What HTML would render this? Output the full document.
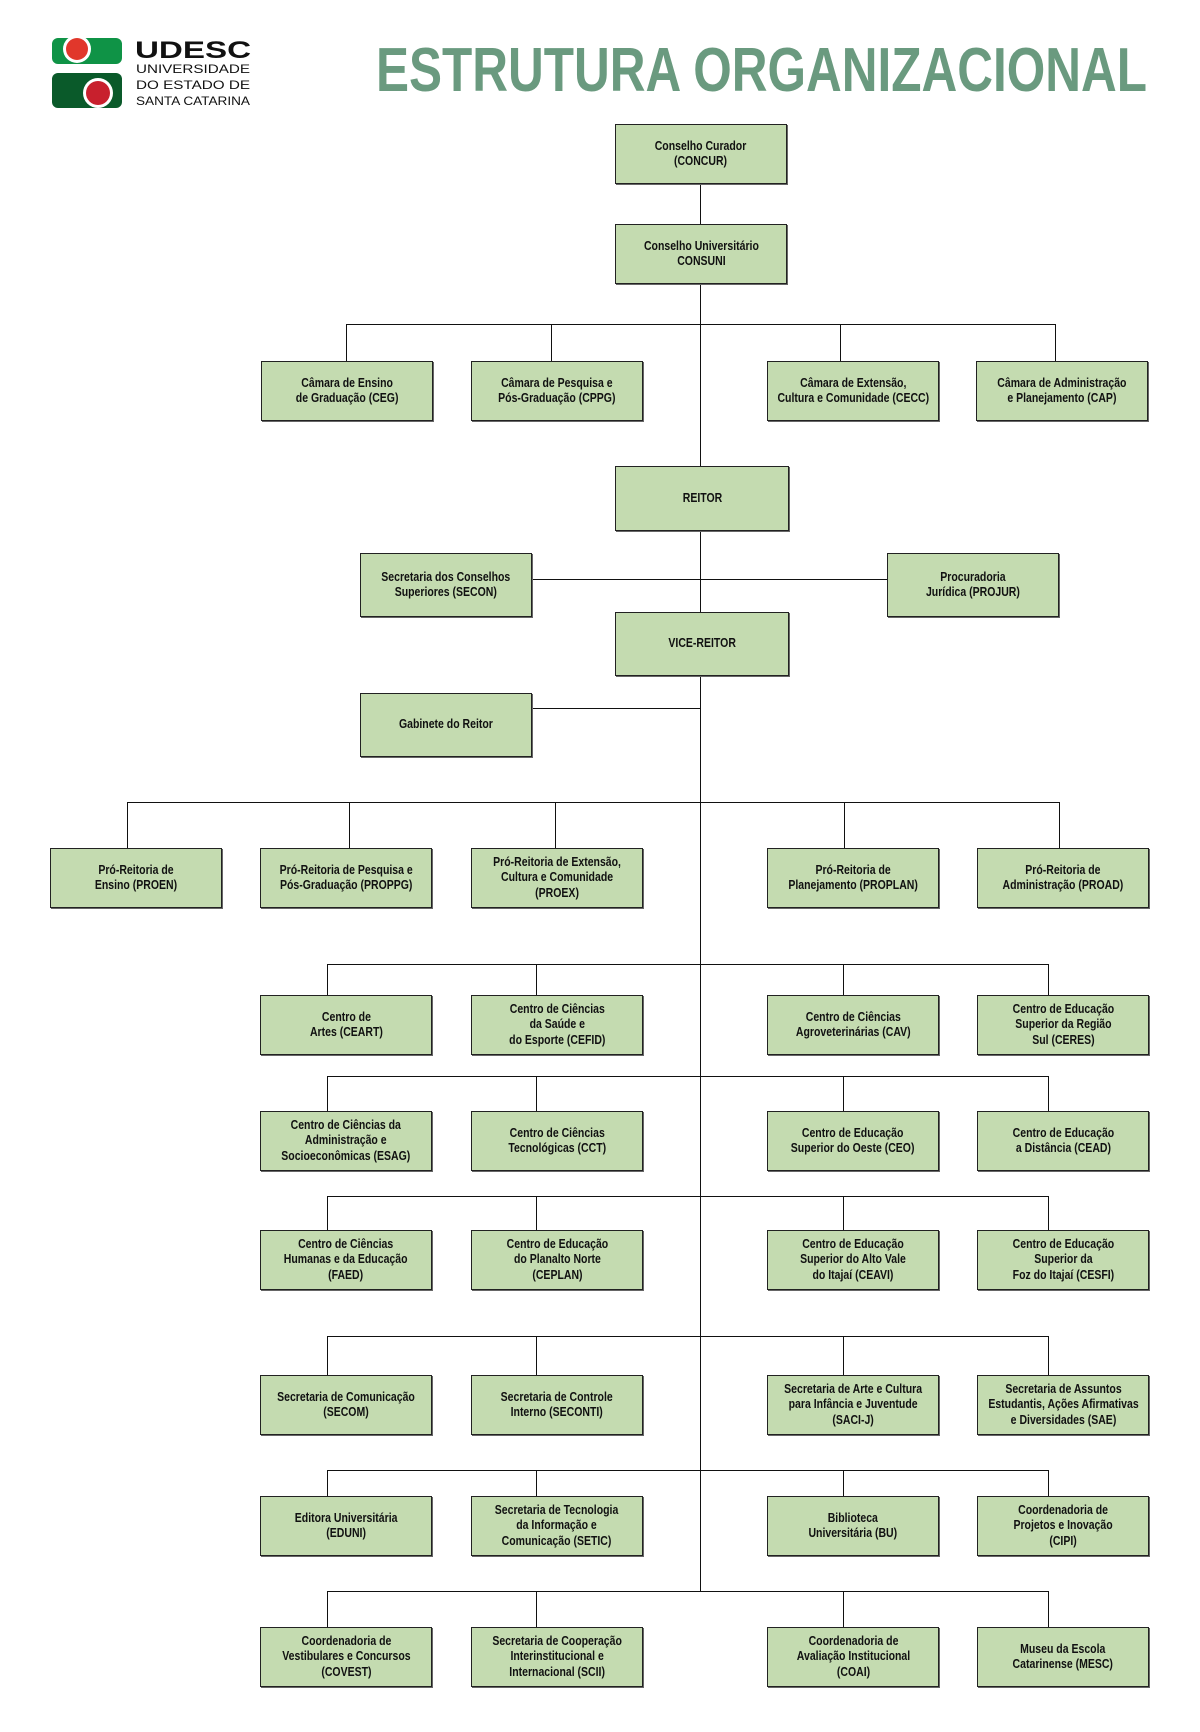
<!DOCTYPE html>
<html><head><meta charset="utf-8">
<style>
html,body{margin:0;padding:0;background:#fff;}
body{width:1200px;height:1732px;position:relative;overflow:hidden;font-family:"Liberation Sans",sans-serif;}
.b{position:absolute;width:170px;height:58px;background:#c4dbb0;border:1.5px solid #222;box-shadow:1px 1px 0 #666;display:flex;align-items:center;justify-content:center;text-align:center;font-weight:bold;font-size:12.5px;line-height:15.5px;color:#111;}
.b span{display:inline-block;white-space:nowrap;transform:scaleX(0.84);}
.h{position:absolute;height:0;border-top:1.5px solid #111;}
.v{position:absolute;width:0;border-left:1.5px solid #111;}
</style></head><body>
<svg style="position:absolute;left:0;top:0" width="260" height="120">
<rect x="52" y="38" width="70" height="26" rx="6" fill="#0f9346"/>
<circle cx="77" cy="49" r="14" fill="#fff"/>
<circle cx="77" cy="49" r="11" fill="#e1372b"/>
<rect x="52" y="73" width="70" height="35" rx="6" fill="#0a5a2a"/>
<circle cx="98" cy="93" r="15" fill="#fff"/>
<circle cx="98" cy="93" r="12" fill="#c8202d"/>
<text x="135" y="58" font-family="Liberation Sans" font-weight="bold" font-size="24" fill="#111" textLength="116" lengthAdjust="spacingAndGlyphs">UDESC</text>
<text x="136" y="73" font-family="Liberation Sans" font-size="12" fill="#111" textLength="114" lengthAdjust="spacingAndGlyphs">UNIVERSIDADE</text>
<text x="136" y="89" font-family="Liberation Sans" font-size="12" fill="#111" textLength="114" lengthAdjust="spacingAndGlyphs">DO ESTADO DE</text>
<text x="136" y="105" font-family="Liberation Sans" font-size="12" fill="#111" textLength="114" lengthAdjust="spacingAndGlyphs">SANTA CATARINA</text>
</svg>
<svg style="position:absolute;left:370px;top:36px" width="790" height="62"><text x="6" y="55" font-family="Liberation Sans, sans-serif" font-weight="bold" font-size="62" fill="#6a9a7f" textLength="771" lengthAdjust="spacingAndGlyphs">ESTRUTURA ORGANIZACIONAL</text></svg>

<div class="v" style="left:700px;top:182px;height:1409px"></div>

<div class="b" style="left:615px;top:124px"><span>Conselho Curador<br>(CONCUR)</span></div>
<div class="b" style="left:615px;top:224px"><span>Conselho Universitário<br>CONSUNI</span></div>

<div class="h" style="left:346px;top:324px;width:709px"></div>
<div class="v" style="left:346px;top:324px;height:37px"></div>
<div class="v" style="left:551px;top:324px;height:37px"></div>
<div class="v" style="left:840px;top:324px;height:37px"></div>
<div class="v" style="left:1055px;top:324px;height:37px"></div>
<div class="b" style="left:261px;top:361px"><span>Câmara de Ensino<br>de Graduação (CEG)</span></div>
<div class="b" style="left:471px;top:361px"><span>Câmara de Pesquisa e<br>Pós-Graduação (CPPG)</span></div>
<div class="b" style="left:767px;top:361px"><span>Câmara de Extensão,<br>Cultura e Comunidade (CECC)</span></div>
<div class="b" style="left:976px;top:361px"><span>Câmara de Administração<br>e Planejamento (CAP)</span></div>

<div class="b" style="left:615px;top:466px;width:172px;height:63px"><span>REITOR</span></div>
<div class="h" style="left:529px;top:579px;width:358px"></div>
<div class="b" style="left:360px;top:553px;height:62px"><span>Secretaria dos Conselhos<br>Superiores (SECON)</span></div>
<div class="b" style="left:887px;top:553px;height:62px"><span>Procuradoria<br>Jurídica (PROJUR)</span></div>
<div class="b" style="left:615px;top:612px;width:172px;height:62px"><span>VICE-REITOR</span></div>
<div class="h" style="left:529px;top:708px;width:172px"></div>
<div class="b" style="left:360px;top:693px;height:62px"><span>Gabinete do Reitor</span></div>

<div class="h" style="left:127px;top:802px;width:932px"></div>
<div class="v" style="left:127px;top:802px;height:46px"></div>
<div class="v" style="left:349px;top:802px;height:46px"></div>
<div class="v" style="left:555px;top:802px;height:46px"></div>
<div class="v" style="left:844px;top:802px;height:46px"></div>
<div class="v" style="left:1059px;top:802px;height:46px"></div>
<div class="b" style="left:50px;top:848px"><span>Pró-Reitoria de<br>Ensino (PROEN)</span></div>
<div class="b" style="left:260px;top:848px"><span>Pró-Reitoria de Pesquisa e<br>Pós-Graduação (PROPPG)</span></div>
<div class="b" style="left:471px;top:848px"><span>Pró-Reitoria de Extensão,<br>Cultura e Comunidade<br>(PROEX)</span></div>
<div class="b" style="left:767px;top:848px"><span>Pró-Reitoria de<br>Planejamento (PROPLAN)</span></div>
<div class="b" style="left:977px;top:848px"><span>Pró-Reitoria de<br>Administração (PROAD)</span></div>

<div class="h" style="left:327px;top:964px;width:721px"></div>
<div class="v" style="left:327px;top:964px;height:31px"></div><div class="v" style="left:536px;top:964px;height:31px"></div><div class="v" style="left:843px;top:964px;height:31px"></div><div class="v" style="left:1048px;top:964px;height:31px"></div>
<div class="b" style="left:260px;top:995px"><span>Centro de<br>Artes (CEART)</span></div>
<div class="b" style="left:471px;top:995px"><span>Centro de Ciências<br>da Saúde e<br>do Esporte (CEFID)</span></div>
<div class="b" style="left:767px;top:995px"><span>Centro de Ciências<br>Agroveterinárias (CAV)</span></div>
<div class="b" style="left:977px;top:995px"><span>Centro de Educação<br>Superior da Região<br>Sul (CERES)</span></div>

<div class="h" style="left:327px;top:1076px;width:721px"></div>
<div class="v" style="left:327px;top:1076px;height:35px"></div><div class="v" style="left:536px;top:1076px;height:35px"></div><div class="v" style="left:843px;top:1076px;height:35px"></div><div class="v" style="left:1048px;top:1076px;height:35px"></div>
<div class="b" style="left:260px;top:1111px"><span>Centro de Ciências da<br>Administração e<br>Socioeconômicas (ESAG)</span></div>
<div class="b" style="left:471px;top:1111px"><span>Centro de Ciências<br>Tecnológicas (CCT)</span></div>
<div class="b" style="left:767px;top:1111px"><span>Centro de Educação<br>Superior do Oeste (CEO)</span></div>
<div class="b" style="left:977px;top:1111px"><span>Centro de Educação<br>a Distância (CEAD)</span></div>

<div class="h" style="left:327px;top:1196px;width:721px"></div>
<div class="v" style="left:327px;top:1196px;height:34px"></div><div class="v" style="left:536px;top:1196px;height:34px"></div><div class="v" style="left:843px;top:1196px;height:34px"></div><div class="v" style="left:1048px;top:1196px;height:34px"></div>
<div class="b" style="left:260px;top:1230px"><span>Centro de Ciências<br>Humanas e da Educação<br>(FAED)</span></div>
<div class="b" style="left:471px;top:1230px"><span>Centro de Educação<br>do Planalto Norte<br>(CEPLAN)</span></div>
<div class="b" style="left:767px;top:1230px"><span>Centro de Educação<br>Superior do Alto Vale<br>do Itajaí (CEAVI)</span></div>
<div class="b" style="left:977px;top:1230px"><span>Centro de Educação<br>Superior da<br>Foz do Itajaí (CESFI)</span></div>

<div class="h" style="left:327px;top:1336px;width:721px"></div>
<div class="v" style="left:327px;top:1336px;height:39px"></div><div class="v" style="left:536px;top:1336px;height:39px"></div><div class="v" style="left:843px;top:1336px;height:39px"></div><div class="v" style="left:1048px;top:1336px;height:39px"></div>
<div class="b" style="left:260px;top:1375px"><span>Secretaria de Comunicação<br>(SECOM)</span></div>
<div class="b" style="left:471px;top:1375px"><span>Secretaria de Controle<br>Interno (SECONTI)</span></div>
<div class="b" style="left:767px;top:1375px"><span>Secretaria de Arte e Cultura<br>para Infância e Juventude<br>(SACI-J)</span></div>
<div class="b" style="left:977px;top:1375px"><span>Secretaria de Assuntos<br>Estudantis, Ações Afirmativas<br>e Diversidades (SAE)</span></div>

<div class="h" style="left:327px;top:1470px;width:721px"></div>
<div class="v" style="left:327px;top:1470px;height:26px"></div><div class="v" style="left:536px;top:1470px;height:26px"></div><div class="v" style="left:843px;top:1470px;height:26px"></div><div class="v" style="left:1048px;top:1470px;height:26px"></div>
<div class="b" style="left:260px;top:1496px"><span>Editora Universitária<br>(EDUNI)</span></div>
<div class="b" style="left:471px;top:1496px"><span>Secretaria de Tecnologia<br>da Informação e<br>Comunicação (SETIC)</span></div>
<div class="b" style="left:767px;top:1496px"><span>Biblioteca<br>Universitária (BU)</span></div>
<div class="b" style="left:977px;top:1496px"><span>Coordenadoria de<br>Projetos e Inovação<br>(CIPI)</span></div>

<div class="h" style="left:327px;top:1591px;width:721px"></div>
<div class="v" style="left:327px;top:1591px;height:36px"></div><div class="v" style="left:536px;top:1591px;height:36px"></div><div class="v" style="left:843px;top:1591px;height:36px"></div><div class="v" style="left:1048px;top:1591px;height:36px"></div>
<div class="b" style="left:260px;top:1627px"><span>Coordenadoria de<br>Vestibulares e Concursos<br>(COVEST)</span></div>
<div class="b" style="left:471px;top:1627px"><span>Secretaria de Cooperação<br>Interinstitucional e<br>Internacional (SCII)</span></div>
<div class="b" style="left:767px;top:1627px"><span>Coordenadoria de<br>Avaliação Institucional<br>(COAI)</span></div>
<div class="b" style="left:977px;top:1627px"><span>Museu da Escola<br>Catarinense (MESC)</span></div>
</body></html>
